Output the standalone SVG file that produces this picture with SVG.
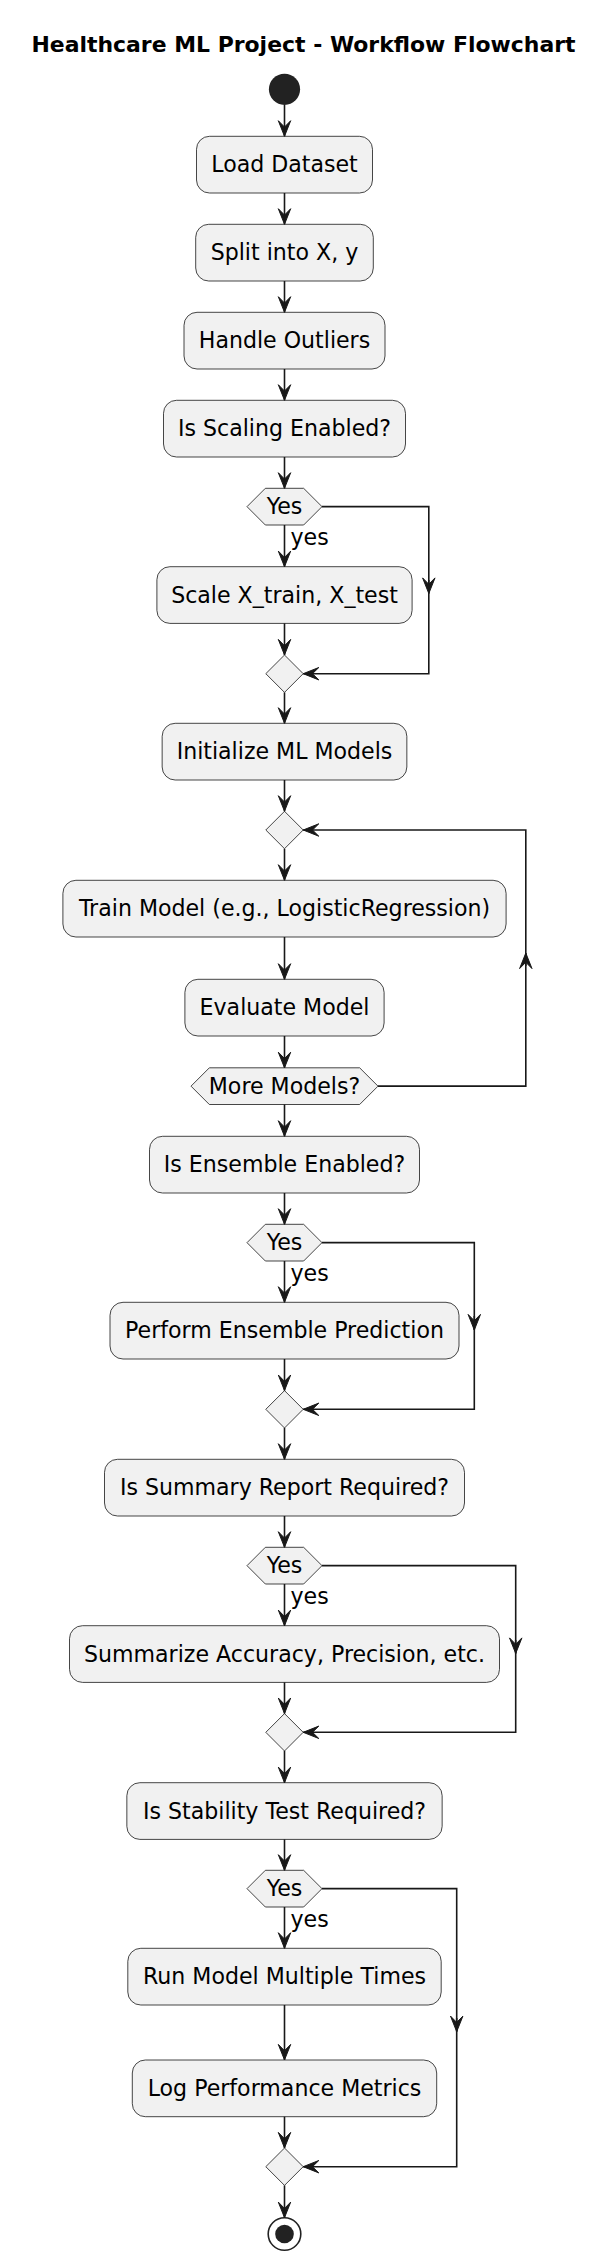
<svg xmlns="http://www.w3.org/2000/svg" width="609" height="2266" viewBox="0 0 609 2266">
<defs>
<style>
.box{fill:#F1F1F1;stroke:#181818;stroke-width:0.8}
.t{font-family:"DejaVu Sans","Liberation Sans",sans-serif;font-size:22.1px;fill:#000000;text-anchor:middle}
.lbl{font-family:"DejaVu Sans","Liberation Sans",sans-serif;font-size:22.1px;fill:#000000}
.title{font-family:"DejaVu Sans","Liberation Sans",sans-serif;font-size:21.95px;font-weight:bold;fill:#000000;text-anchor:middle}
.c{fill:none;stroke:#181818;stroke-width:1.6}
.a{fill:none;stroke:#181818;stroke-width:1.6;marker-end:url(#ah)}
</style>
<marker id="ah" markerUnits="userSpaceOnUse" orient="auto" markerWidth="20" markerHeight="16" viewBox="-17 -8 20 16" refX="0" refY="0" overflow="visible">
<path d="M0,0 L-15.6,-6.2 L-9.3,0 L-15.6,6.2 Z" fill="#181818" stroke="#181818" stroke-width="1" stroke-linejoin="miter"/>
</marker>
</defs>
<rect width="609" height="2266" fill="#FFFFFF"/>
<text class="title" x="303.5" y="51.7">Healthcare ML Project - Workflow Flowchart</text>

<g id="start"><circle cx="284.5" cy="89.3" r="15.6" fill="#222222"/></g>

<g id="n-load"><rect class="box" x="196.5" y="136.3" width="176" height="56.7" rx="13"/><text class="t" x="284.5" y="172.4">Load Dataset</text></g>
<g id="n-split"><rect class="box" x="195.7" y="224.3" width="177.6" height="56.7" rx="13"/><text class="t" x="284.5" y="260.4">Split into X, y</text></g>
<g id="n-outliers"><rect class="box" x="184" y="312.3" width="201" height="56.7" rx="13"/><text class="t" x="284.5" y="348.4">Handle Outliers</text></g>
<g id="n-scaling-q"><rect class="box" x="163.5" y="400.3" width="242" height="56.7" rx="13"/><text class="t" x="284.5" y="436.4">Is Scaling Enabled?</text></g>
<g id="d-scaling"><polygon class="box" points="247,506.65 265.35,488.3 303.65,488.3 322,506.65 303.65,525 265.35,525"/><text class="t" x="284.5" y="513.7">Yes</text></g>
<g id="n-scale"><rect class="box" x="156.9" y="566.7" width="255.2" height="56.7" rx="13"/><text class="t" x="284.5" y="602.8">Scale X_train, X_test</text></g>
<g id="m-scaling"><polygon class="box" points="265.8,673.7 284.5,655 303.2,673.7 284.5,692.4"/></g>
<g id="n-init"><rect class="box" x="162.15" y="723.3" width="244.7" height="56.7" rx="13"/><text class="t" x="284.5" y="759.4">Initialize ML Models</text></g>
<g id="m-loop"><polygon class="box" points="265.8,830 284.5,811.3 303.2,830 284.5,848.7"/></g>
<g id="n-train"><rect class="box" x="62.9" y="880.3" width="443.2" height="56.7" rx="13"/><text class="t" x="284.5" y="916.4">Train Model (e.g., LogisticRegression)</text></g>
<g id="n-eval"><rect class="box" x="184.9" y="979.3" width="199.2" height="56.7" rx="13"/><text class="t" x="284.5" y="1015.4">Evaluate Model</text></g>
<g id="d-more"><polygon class="box" points="191,1086.15 209.35,1067.8 359.65,1067.8 378,1086.15 359.65,1104.5 209.35,1104.5"/><text class="t" x="284.5" y="1093.6">More Models?</text></g>
<g id="n-ensemble-q"><rect class="box" x="149.5" y="1136.3" width="270" height="56.7" rx="13"/><text class="t" x="284.5" y="1172.4">Is Ensemble Enabled?</text></g>
<g id="d-ensemble"><polygon class="box" points="247,1242.65 265.35,1224.3 303.65,1224.3 322,1242.65 303.65,1261 265.35,1261"/><text class="t" x="284.5" y="1249.7">Yes</text></g>
<g id="n-ensemble"><rect class="box" x="110" y="1302.3" width="349" height="56.7" rx="13"/><text class="t" x="284.5" y="1338.4">Perform Ensemble Prediction</text></g>
<g id="m-ensemble"><polygon class="box" points="265.8,1409.3 284.5,1390.6 303.2,1409.3 284.5,1428"/></g>
<g id="n-summary-q"><rect class="box" x="104.5" y="1459.3" width="360" height="56.7" rx="13"/><text class="t" x="284.5" y="1495.4">Is Summary Report Required?</text></g>
<g id="d-summary"><polygon class="box" points="247,1565.65 265.35,1547.3 303.65,1547.3 322,1565.65 303.65,1584 265.35,1584"/><text class="t" x="284.5" y="1572.7">Yes</text></g>
<g id="n-summary"><rect class="box" x="69.5" y="1625.7" width="430" height="56.7" rx="13"/><text class="t" x="284.5" y="1661.8">Summarize Accuracy, Precision, etc.</text></g>
<g id="m-summary"><polygon class="box" points="265.8,1732.3 284.5,1713.6 303.2,1732.3 284.5,1751"/></g>
<g id="n-stability-q"><rect class="box" x="126.85" y="1782.7" width="315.3" height="56.7" rx="13"/><text class="t" x="284.5" y="1818.8">Is Stability Test Required?</text></g>
<g id="d-stability"><polygon class="box" points="247,1888.65 265.35,1870.3 303.65,1870.3 322,1888.65 303.65,1907 265.35,1907"/><text class="t" x="284.5" y="1895.7">Yes</text></g>
<g id="n-run"><rect class="box" x="127.8" y="1948.3" width="313.4" height="56.7" rx="13"/><text class="t" x="284.5" y="1984.4">Run Model Multiple Times</text></g>
<g id="n-log"><rect class="box" x="132.3" y="2060" width="304.4" height="56.7" rx="13"/><text class="t" x="284.5" y="2096.1">Log Performance Metrics</text></g>
<g id="m-stability"><polygon class="box" points="265.8,2166.7 284.5,2148 303.2,2166.7 284.5,2185.4"/></g>
<g id="end"><circle cx="284.5" cy="2234" r="16.3" fill="#FFFFFF" stroke="#222222" stroke-width="1.6"/><circle cx="284.5" cy="2234" r="9.3" fill="#222222"/></g>

<g id="connectors">
<path class="a" d="M284.5,104.9 V136.3"/>
<path class="a" d="M284.5,193 V224.3"/>
<path class="a" d="M284.5,281 V312.3"/>
<path class="a" d="M284.5,369 V400.3"/>
<path class="a" d="M284.5,457 V488.3"/>
<path class="a" d="M284.5,525 V566.7"/>
<path class="a" d="M284.5,623.4 V655"/>
<path class="a" d="M284.5,692.4 V723.3"/>
<path class="a" d="M284.5,780 V811.3"/>
<path class="a" d="M284.5,848.7 V880.3"/>
<path class="a" d="M284.5,937 V979.3"/>
<path class="a" d="M284.5,1036 V1067.8"/>
<path class="a" d="M284.5,1104.5 V1136.3"/>
<path class="a" d="M284.5,1193 V1224.3"/>
<path class="a" d="M284.5,1261 V1302.3"/>
<path class="a" d="M284.5,1359 V1390.6"/>
<path class="a" d="M284.5,1428 V1459.3"/>
<path class="a" d="M284.5,1516 V1547.3"/>
<path class="a" d="M284.5,1584 V1625.7"/>
<path class="a" d="M284.5,1682.4 V1713.6"/>
<path class="a" d="M284.5,1751 V1782.7"/>
<path class="a" d="M284.5,1839.4 V1870.3"/>
<path class="a" d="M284.5,1907 V1948.3"/>
<path class="a" d="M284.5,2005 V2060"/>
<path class="a" d="M284.5,2116.7 V2148"/>
<path class="a" d="M284.5,2185.4 V2217.7"/>

<path class="a" d="M322,506.65 H428.8 V673.7 H303.2"/>
<path class="a" d="M428.8,580 V593.5"/>
<path class="a" d="M378,1086.15 H525.8 V830 H303.2"/>
<path class="a" d="M525.8,966 V953"/>
<path class="a" d="M322,1242.65 H474.3 V1409.3 H303.2"/>
<path class="a" d="M474.3,1316 V1330"/>
<path class="a" d="M322,1565.65 H515.7 V1732.3 H303.2"/>
<path class="a" d="M515.7,1640 V1653.5"/>
<path class="a" d="M322,1888.65 H456.7 V2166.7 H303.2"/>
<path class="a" d="M456.7,2018 V2031.7"/>

<text class="lbl" x="290.5" y="545.3">yes</text>
<text class="lbl" x="290.5" y="1281.3">yes</text>
<text class="lbl" x="290.5" y="1604.3">yes</text>
<text class="lbl" x="290.5" y="1927.3">yes</text>
</g>
</svg>
